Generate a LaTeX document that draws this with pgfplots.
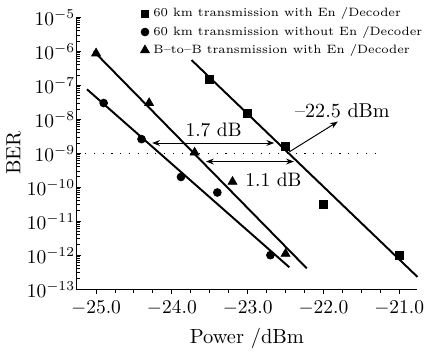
\documentclass[border=0pt]{standalone}
\usepackage{fontspec}
\usepackage{pgfplots}
\pgfplotsset{compat=1.18}
\usetikzlibrary{arrows.meta}
\begin{document}
\begin{tikzpicture}
\begin{axis}[
  scale only axis, width=175pt, height=139.5pt,
  xmin=-25.26, xmax=-20.76,
  ymode=log, ymin=1e-13, ymax=1e-5,
  axis lines=left, axis line style={-, line width=0.6pt},
  xtick={-25,-24,-23,-22,-21},
  minor x tick num=3,
  ytick={1e-13,1e-12,1e-11,1e-10,1e-9,1e-8,1e-7,1e-6,1e-5},
  minor ytick={2e-13,3e-13,4e-13,5e-13,6e-13,7e-13,8e-13,9e-13,
    2e-12,3e-12,4e-12,5e-12,6e-12,7e-12,8e-12,9e-12,
    2e-11,3e-11,4e-11,5e-11,6e-11,7e-11,8e-11,9e-11,
    2e-10,3e-10,4e-10,5e-10,6e-10,7e-10,8e-10,9e-10,
    2e-9,3e-9,4e-9,5e-9,6e-9,7e-9,8e-9,9e-9,
    2e-8,3e-8,4e-8,5e-8,6e-8,7e-8,8e-8,9e-8,
    2e-7,3e-7,4e-7,5e-7,6e-7,7e-7,8e-7,9e-7,
    2e-6,3e-6,4e-6,5e-6,6e-6,7e-6,8e-6,9e-6},
  xtick align=outside, ytick align=inside,
  major tick length=2.5pt, minor tick length=1.8pt,
  tick style={black, line width=0.5pt},
  x tick label style={/pgf/number format/.cd, fixed, fixed zerofill, precision=1},
  tick label style={font=\fontsize{10}{12}\selectfont},
  yticklabel style={inner xsep=0.5pt},
  xlabel={Power /dBm}, ylabel={BER},
  label style={font=\fontsize{10.5}{12}\selectfont},
  ylabel style={yshift=-1pt},
  legend style={at={(rel axis cs:0.17,1.065)}, anchor=north west, draw=none, fill=none,
    font=\fontsize{6.2}{7}\selectfont, row sep=-0.8pt},
  legend cell align=left,
  clip=false,
]
\addplot[only marks, mark=square*, mark size=2pt, black] coordinates {
  (-23.5,1.5e-7) (-23.0,1.5e-8) (-22.5,1.6e-9) (-22.0,3.2e-11) (-21.0,1.0e-12)};
\addlegendentry{60 km transmission with En /Decoder}
\addplot[only marks, mark=*, mark size=2pt, black] coordinates {
  (-24.9,3.0e-8) (-24.4,2.6e-9) (-23.88,2.0e-10) (-23.4,7e-11) (-22.7,1.0e-12)};
\addlegendentry{60 km transmission without En /Decoder}
\addplot[only marks, mark=triangle*, mark size=2.6pt, black] coordinates {
  (-25.0,8.7e-7) (-24.3,3e-8) (-23.7,1.05e-9) (-23.2,1.45e-10) (-22.5,1.1e-12)};
\addlegendentry{B\textendash to\textendash B transmission with En /Decoder}
% fit lines
\addplot[black, line width=1pt, forget plot] coordinates {(-23.74,5.5e-7) (-20.76,2.3e-13)};
\addplot[black, line width=1pt, forget plot] coordinates {(-25.12,7.6e-8) (-22.45,4.4e-13)};
\addplot[black, line width=1pt, forget plot] coordinates {(-25.03,1e-6) (-22.22,4.1e-13)};
% threshold
\addplot[black, line width=0.6pt, dash pattern=on 0.6pt off 3.9pt, forget plot] coordinates {(-25.26,1e-9) (-21.31,1e-9)};
% annotations
\draw[{Stealth[length=4pt,width=3pt]}-{Stealth[length=4pt,width=3pt]}, line width=0.5pt] (axis cs:-24.26,2e-9) -- (axis cs:-22.65,2e-9);
\node[font=\fontsize{10}{12}\selectfont] at (axis cs:-23.45,5e-9) {1.7 dB};
\draw[{Stealth[length=4pt,width=3pt]}-{Stealth[length=4pt,width=3pt]}, line width=0.5pt] (axis cs:-23.55,5.7e-10) -- (axis cs:-22.39,5.7e-10);
\node[font=\fontsize{10}{12}\selectfont] at (axis cs:-22.66,1.6e-10) {1.1 dB};
\draw[-{Stealth[length=4pt,width=3pt]}, line width=0.5pt] (axis cs:-22.45,1.1e-9) -- (axis cs:-21.81,8.5e-9);
\node[font=\fontsize{10.3}{12}\selectfont] at (axis cs:-21.75,1.8e-8) {\textendash22.5 dBm};
\end{axis}
\end{tikzpicture}
\end{document}
